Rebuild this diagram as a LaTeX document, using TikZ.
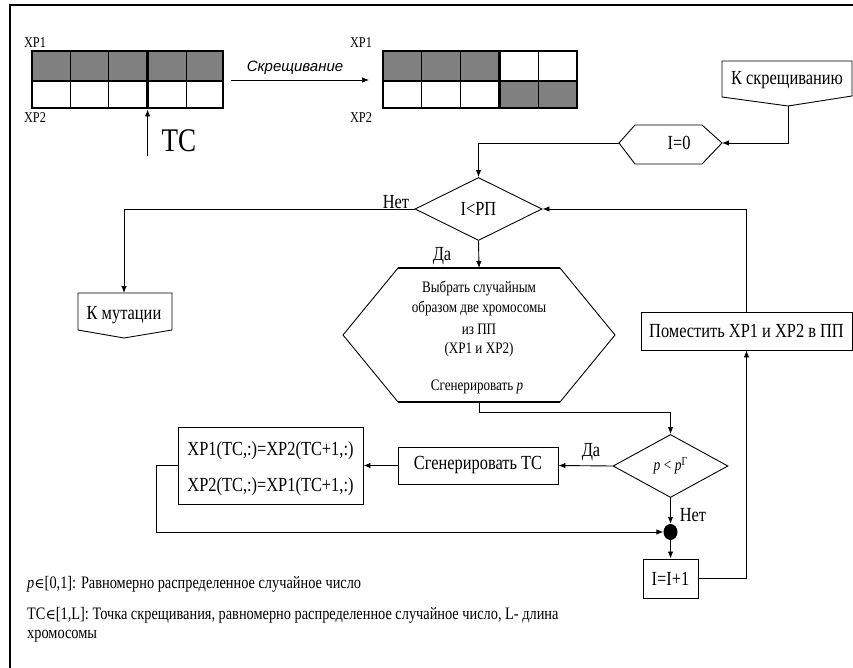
\documentclass[tikz,border=0pt]{standalone}
\usepackage{fontspec}
\setmainfont{Liberation Serif}[FakeStretch=0.82]
\setsansfont{Liberation Sans}
\newfontfamily\symfnt{DejaVu Serif}
\usetikzlibrary{arrows.meta,shapes.geometric}
\definecolor{cellgray}{HTML}{808080}
\tikzset{
  conn/.style={line width=0.9pt,-{Latex[length=7pt,width=5.5pt]}},
  plain/.style={line width=0.9pt},
  shp/.style={draw,line width=0.9pt},
  boxnode/.style={draw,line width=0.9pt,rectangle,inner sep=0,font=\fontsize{20}{22}\selectfont},
  txt/.style={inner sep=0,font=\fontsize{20}{22}\selectfont},
  small/.style={inner sep=0,font=\fontsize{15}{17}\selectfont},
  hexfont/.style={inner sep=0,font=\fontsize{16}{18}\selectfont},
  legend/.style={inner sep=0,anchor=west,font=\fontsize{17.5}{19}\selectfont},
}
\begin{document}
\begin{tikzpicture}[x=1pt,y=-1pt]
\useasboundingbox (0,0) rectangle (853,668);
% frame
\draw[line width=2.6pt] (10,668) -- (10,5) -- (853,5);

% ---- left chromosome pair ----
\fill[cellgray] (32,51) rectangle (223,81);
\foreach \x in {70.2,108.4,186.6} \draw[line width=0.7pt] (\x,51) -- (\x,108);
\draw[line width=2pt] (32,81) -- (223,81);
\draw[line width=3pt] (147.6,51) -- (147.6,108);
\draw[line width=2.5pt] (32,51) rectangle (223,108);
\node[small] (xr1a) at (35,43) {ХР1};
\node[small] (xr2a) at (35,118) {ХР2};
\coordinate (tcbot) at (147.6,156);
\coordinate (tctop) at (147.6,109.5);
\draw[conn,line width=0.8pt] (tcbot) -- (tctop);
\node[inner sep=0,font=\fontsize{33}{35}\selectfont] (tc) at (179,141) {ТС};

% crossover arrow
\coordinate (cxa) at (231,80);
\coordinate (cxb) at (369,80);
\draw[conn,line width=0.7pt] (cxa) -- (cxb);
\node[inner sep=0,font=\sffamily\itshape\fontsize{15}{17}\selectfont] (cxl) at (295,68) {Скрещивание};

% ---- right chromosome pair ----
\fill[cellgray] (383,51) rectangle (499.4,81);
\fill[cellgray] (499.4,81) rectangle (577,108);
\foreach \x in {421.8,460.6,538.2} \draw[line width=0.7pt] (\x,51) -- (\x,108);
\draw[line width=2pt] (383,81) -- (577,81);
\draw[line width=3pt] (499.4,51) -- (499.4,108);
\draw[line width=2.5pt] (383,51) rectangle (577,108);
\node[small] (xr1b) at (361,43) {ХР1};
\node[small] (xr2b) at (361,118) {ХР2};

% ---- К скрещиванию (off-page connector) ----
\draw[shp] (722,61) -- (852,61) -- (852,96) -- (788,106) coordinate (ks-b) -- (722,97) -- cycle;
\node[txt] (ks) at (787,80) {К скрещиванию};

% ---- I=0 hexagon ----
\draw[shp] (619,143) coordinate (i0-l) -- (635,125) -- (702,125) -- (722,143) coordinate (i0-r) -- (702,164) -- (635,164) -- cycle;
\node[txt] (i0) at (679,143) {I=0};

% ---- I<РП diamond ----
\node[shp,diamond,minimum width=127pt,minimum height=63pt,inner sep=0,font=\fontsize{20}{22}\selectfont] (d1) at (478.5,209) {I<РП};

% ---- К мутации ----
\draw[shp] (78,293) -- (124,293) coordinate (km-t) -- (172,293) -- (172,330) -- (124,338) -- (78,330) -- cycle;
\node[txt] (km) at (124,315) {К мутации};

% ---- big hexagon ----
\draw[shp] (398,268) -- (479,268) coordinate (hx-t) -- (560,268) -- (615,335) -- (560,402) -- (479,402) coordinate (hx-b) -- (398,402) -- (343,335) -- cycle;
\draw[line width=1.6pt] (398,268) -- (560,268);
\draw[line width=1.6pt] (398,402) -- (560,402);
\node[hexfont] (h1) at (479,288) {Выбрать случайным};
\node[hexfont] (h2) at (479,308.5) {образом две хромосомы};
\node[hexfont] (h3) at (479,329) {из ПП};
\node[hexfont] (h4) at (479,349.5) {(ХР1 и ХР2)};
\node[hexfont] (h5) at (477,387) {Сгенерировать \textit{p}};

% ---- second diamond ----
\node[shp,diamond,minimum width=115pt,minimum height=63pt,inner sep=0,font=\fontsize{16.5}{18}\selectfont] (d2) at (670.5,466) {\textit{p} < \textit{p}\raisebox{0.6ex}{\fontsize{12}{13}\selectfont Г}};

% ---- boxes ----
\node[boxnode,minimum width=160pt,minimum height=37pt] (gts) at (478,465.5) {Сгенерировать ТС};
\node[boxnode,minimum width=185pt,minimum height=77pt,align=center] (xr) at (270.5,465.5) {};
\node[txt] (xrl1) at (270.5,451) {ХР1(ТС,:)=ХР2(ТС+1,:)};
\node[txt] (xrl2) at (270.5,487) {ХР2(ТС,:)=ХР1(ТС+1,:)};
\node[boxnode,minimum width=211pt,minimum height=38pt] (put) at (746.5,331) {Поместить ХР1 и ХР2 в ПП};
\node[boxnode,minimum width=55pt,minimum height=39pt] (inc) at (670.5,578.5) {I=I+1};
\node[fill=black,ellipse,minimum width=14pt,minimum height=16pt,inner sep=0] (dot) at (670.5,532) {};

% labels
\node[txt] (net1) at (396,202) {Нет};
\node[txt] (da1) at (442,256) {Да};
\node[txt] (da2) at (591,452) {Да};
\node[txt] (net2) at (693,515) {Нет};

% ---- connectors ----
\draw[conn] (ks-b) |- (i0-r);
\draw[conn] (i0-l) -| (d1.north);
\draw[conn] (d1.west) -| (km-t);
\draw[conn] (d1.south) -- (hx-t);
\coordinate (bend1) at (479,412);
\draw[conn] (hx-b) -- (bend1) -| (d2.north);
\draw[conn] (d2.west) -- (gts.east);
\draw[conn] (gts.west) -- (xr.east);
\coordinate (c1) at (156,465.5);
\draw[conn] (xr.west) -- (c1) |- (dot.west);
\draw[conn] (d2.south) -- (dot.north);
\draw[conn] (dot.south) -- (inc.north);
\draw[conn] (inc.east) -| (put.south);
\draw[conn] (put.north) |- (d1.east);

% ---- legend ----
\node[legend] (lg1) at (27,584) {\textit{p}{\symfnt\fontsize{14}{16}\selectfont ∈}[0,1]: Равномерно распределенное случайное число};
\node[legend] (lg2) at (27,615) {ТС{\symfnt\fontsize{14}{16}\selectfont ∈}[1,L]: Точка скрещивания, равномерно распределенное случайное число, L- длина};
\node[legend] (lg3) at (27,636) {хромосомы};
\end{tikzpicture}
\end{document}
